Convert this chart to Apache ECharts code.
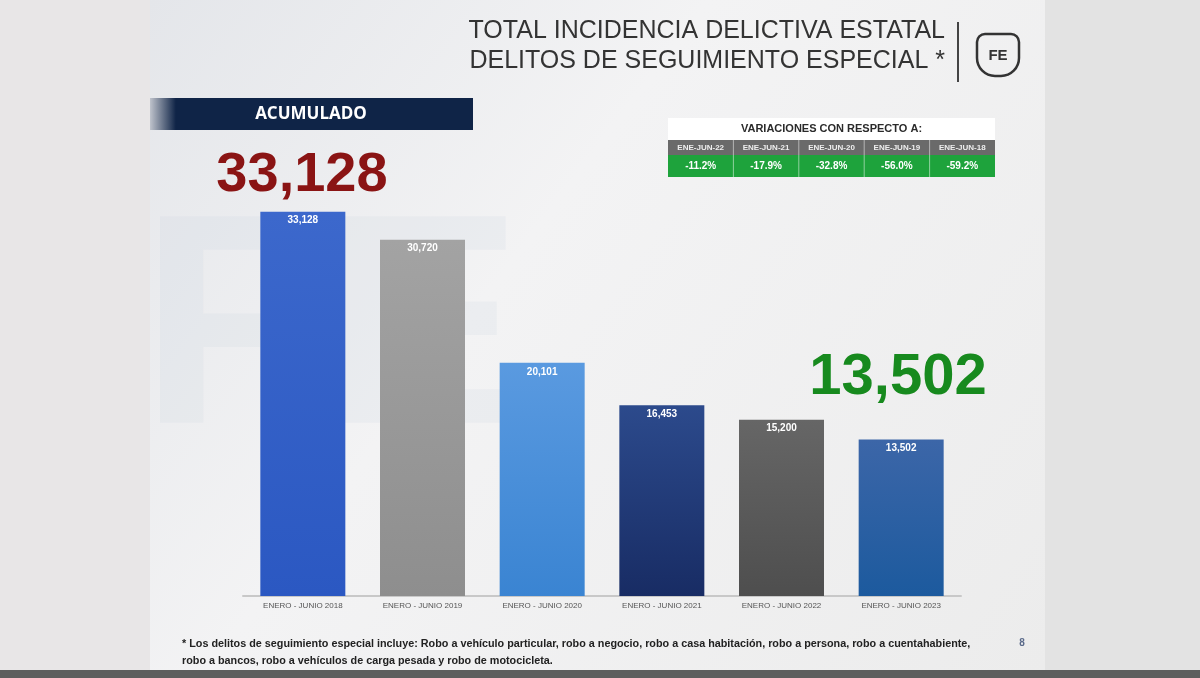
<!DOCTYPE html>
<html>
<head>
<meta charset="utf-8">
<script src="https://cdn.jsdelivr.net/npm/echarts@6/dist/echarts.min.js"></script>
<style>
  html, body { margin: 0; padding: 0; background: #e8e6e7; }
  #chart { width: 1200px; height: 678px; }
</style>
</head>
<body>
<div id="chart"></div>
<script>
// datos
const periodos = ["ENERO - JUNIO 2018", "ENERO - JUNIO 2019", "ENERO - JUNIO 2020",
  "ENERO - JUNIO 2021", "ENERO - JUNIO 2022", "ENERO - JUNIO 2023"];
const acumulado = [33128, 30720, 20101, 16453, 15200, 13502];
const coloresBarra = [
  ["#3c68cc", "#2b58c2"],
  ["#a3a3a3", "#8e8e8e"],
  ["#5a9ae0", "#3a84d2"],
  ["#2c4a8c", "#182c64"],
  ["#666666", "#4e4e4e"],
  ["#3c66a8", "#1c5a9e"]
];
const variacionLabels = ["ENE-JUN-22", "ENE-JUN-21", "ENE-JUN-20", "ENE-JUN-19", "ENE-JUN-18"];
const variacionValores = ["-11.2%", "-17.9%", "-32.8%", "-56.0%", "-59.2%"];

const fmt = v => v.toLocaleString("en-US");
const narrow = "'Liberation Sans Narrow', 'Liberation Sans', sans-serif";

// tabla de variaciones
let tabla = [];
const tx = 668, tw = 327, cw = tw / variacionLabels.length;
tabla.push({ type: "rect", shape: { x: tx, y: 118, width: tw, height: 22 }, style: { fill: "#ffffff" } });
tabla.push({ type: "text", x: tx + tw / 2, y: 129, style: { text: "VARIACIONES CON RESPECTO A:", fill: "#2a2a2a",
  font: "bold 11px " + narrow, align: "center", verticalAlign: "middle" } });
tabla.push({ type: "rect", shape: { x: tx, y: 140, width: tw, height: 15 }, style: { fill: "#6a6a6a" } });
tabla.push({ type: "rect", shape: { x: tx, y: 155, width: tw, height: 22 }, style: { fill: "#1ea33c" } });
variacionLabels.forEach((l, i) => {
  const cx = tx + cw * i + cw / 2;
  tabla.push({ type: "text", x: cx, y: 148, style: { text: l, fill: "#eeeeee", font: "bold 8px " + narrow, align: "center", verticalAlign: "middle" } });
  tabla.push({ type: "text", x: cx, y: 166, style: { text: variacionValores[i], fill: "#ffffff", font: "bold 10px " + narrow, align: "center", verticalAlign: "middle" } });
  if (i > 0) {
    tabla.push({ type: "line", shape: { x1: tx + cw * i, y1: 140, x2: tx + cw * i, y2: 177 }, style: { stroke: "#ffffff", lineWidth: 1, opacity: 0.5 } });
  }
});

let option = {
  backgroundColor: "#e8e6e7",
  animation: false,
  grid: { left: 243, right: 239, top: 132, bottom: 82 },
  xAxis: {
    type: "category",
    data: periodos,
    axisLine: { lineStyle: { color: "#c8c8c8", width: 2 } },
    axisTick: { show: false },
    axisLabel: { color: "#555", fontSize: 8, fontFamily: narrow, margin: 6 }
  },
  yAxis: { type: "value", min: 0, max: 40000, show: false, splitLine: { show: false } },
  graphic: [
    // fondo de la lamina
    { type: "rect", z: -10, shape: { x: 150, y: 0, width: 895, height: 670 },
      style: { fill: new echarts.graphic.LinearGradient(0, 0, 1, 1, [
        { offset: 0, color: "#e4e6ea" }, { offset: 0.4, color: "#f3f3f4" }, { offset: 1, color: "#ececec" }]) } },
    { type: "rect", z: -10, shape: { x: 1045, y: 0, width: 155, height: 670 }, style: { fill: "#e3e3e3" } },
    { type: "rect", z: -10, shape: { x: 0, y: 670, width: 1200, height: 8 }, style: { fill: "#5e5e5e" } },
    // marca de agua
    { type: "text", z: -9, x: 140, y: 340, style: { text: "FE", fill: "rgba(200,208,220,0.18)", font: "bold 300px 'Liberation Sans'", verticalAlign: "middle" } },
    // titulo
    { type: "text", x: 945, y: 31, style: { text: "TOTAL INCIDENCIA DELICTIVA ESTATAL", fill: "#333", font: "25px 'Liberation Sans', Arial", align: "right", verticalAlign: "middle" } },
    { type: "text", x: 945, y: 61, style: { text: "DELITOS DE SEGUIMIENTO ESPECIAL *", fill: "#333", font: "25px 'Liberation Sans', Arial", align: "right", verticalAlign: "middle" } },
    { type: "line", shape: { x1: 958, y1: 22, x2: 958, y2: 82 }, style: { stroke: "#444", lineWidth: 2 } },
    { type: "rect", shape: { x: 977, y: 34, width: 42, height: 42, r: [8, 8, 18, 18] }, style: { fill: "none", stroke: "#333", lineWidth: 2.5 } },
    { type: "text", x: 998, y: 56, style: { text: "FE", fill: "#333", font: "bold 15px 'Liberation Sans'", align: "center", verticalAlign: "middle" } },
    // acumulado
    { type: "rect", shape: { x: 150, y: 98, width: 323, height: 32 },
      style: { fill: new echarts.graphic.LinearGradient(0, 0, 1, 0, [
        { offset: 0, color: "#bfc3cc" }, { offset: 0.08, color: "#0f2447" }, { offset: 1, color: "#0f2447" }]) } },
    { type: "text", x: 311, y: 114, style: { text: "ACUMULADO", fill: "#fff", font: "bold 17px 'Open Sans', sans-serif", align: "center", verticalAlign: "middle" } },
    { type: "text", x: 302, y: 176, style: { text: fmt(acumulado[0]), fill: "#8a1414", font: "bold 56px 'Liberation Sans', Arial", align: "center", verticalAlign: "middle" } },
    { type: "text", x: 898, y: 378, style: { text: fmt(acumulado[acumulado.length - 1]), fill: "#178a1e", font: "bold 58px 'Liberation Sans', Arial", align: "center", verticalAlign: "middle" } },
    // nota al pie
    { type: "text", x: 182, y: 644, style: { text: "* Los delitos de seguimiento especial incluye: Robo a vehículo particular, robo a negocio, robo a casa habitación, robo a persona, robo a cuentahabiente,",
      fill: "#222", font: "bold 10.8px " + narrow, verticalAlign: "middle" } },
    { type: "text", x: 182, y: 661, style: { text: "robo a bancos, robo a vehículos de carga pesada y robo de motocicleta.",
      fill: "#222", font: "bold 10.8px " + narrow, verticalAlign: "middle" } },
    { type: "text", x: 1022, y: 643, style: { text: "8", fill: "#5a6a8a", font: "bold 10px 'Liberation Sans'", align: "center", verticalAlign: "middle" } }
  ].concat(tabla),
  series: [{
    type: "bar",
    barWidth: 85,
    data: acumulado.map((v, i) => ({
      value: v,
      itemStyle: { color: new echarts.graphic.LinearGradient(0, 0, 0, 1, [
        { offset: 0, color: coloresBarra[i][0] }, { offset: 1, color: coloresBarra[i][1] }]) }
    })),
    label: {
      show: true,
      position: "insideTop",
      distance: 4,
      color: "#fff",
      fontWeight: "bold",
      fontSize: 10,
      fontFamily: narrow,
      formatter: p => fmt(p.value)
    }
  }]
};

echarts.init(document.getElementById("chart")).setOption(option);
</script>
</body>
</html>
